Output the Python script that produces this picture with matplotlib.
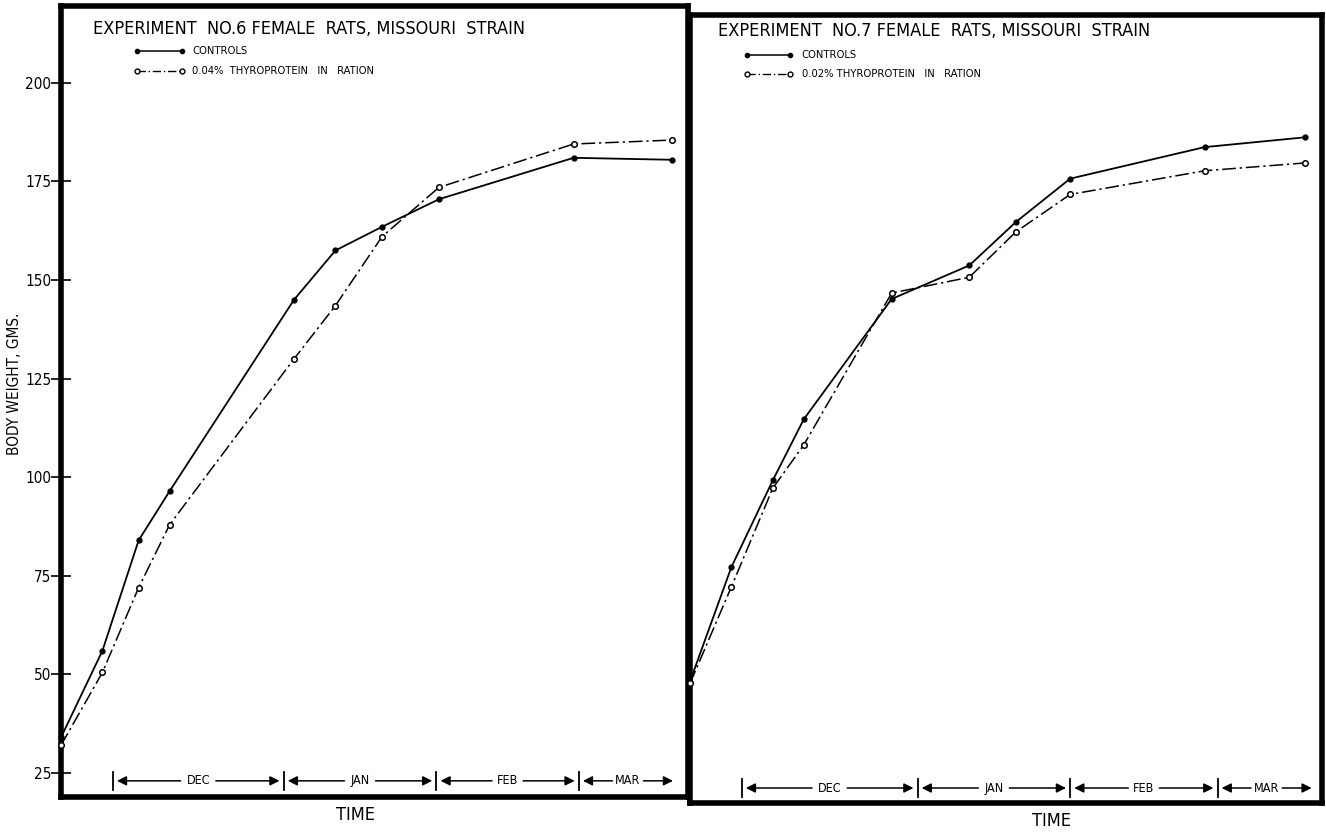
import matplotlib
matplotlib.use("Agg")
import matplotlib.pyplot as plt

plt.rcParams['font.family'] = ['DejaVu Sans']
plt.rcParams['font.stretch'] = 'condensed'

W, H = 1326, 832

# Experiment 6 (left panel), x in days from start of chart
exp6_days = [0, 8, 15, 21, 45, 53, 62, 73, 99, 118]
exp6_controls = [34, 56, 84, 96.5, 145, 157.5, 163.5, 170.5, 181, 180.5]
exp6_thyro = [32, 50.5, 72, 88, 130, 143.5, 161, 173.5, 184.5, 185.5]

# Experiment 7 (right panel)
exp7_days = [0, 8, 16, 22, 39, 54, 63, 73.5, 99.5, 119]
exp7_controls = [50, 79, 101, 116.5, 147, 155.5, 166.5, 177.5, 185.5, 188]
exp7_thyro = [49.5, 74, 99, 110, 148.5, 152.5, 164, 173.5, 179.5, 181.5]

months = ["DEC", "JAN", "FEB", "MAR"]
exp6_month_start = [10, 43, 72.5, 100, 119]
exp7_month_start = [10, 44, 73.5, 102, 121]

yticks = [25, 50, 75, 100, 125, 150, 175, 200]


def draw_panel(ax, days, controls, thyro, month_start, title, thyro_label, leg):
    ax.plot(days, controls, color="black", lw=1.3, marker="o", ms=3.5,
            mfc="black", mec="black", clip_on=False, zorder=3)
    ax.plot(days, thyro, color="black", lw=1.1, ls=(0, (9, 2.5, 1.5, 2.5)),
            marker="o", ms=4, mfc="white", mec="black", mew=1.1,
            clip_on=False, zorder=3)

    for s in ax.spines.values():
        s.set_linewidth(4)

    ax.text(title[1], title[2], title[0], transform=ax.transAxes,
            fontsize=13, va="center", ha="left")

    # hand drawn legend
    x0, x1, xt, y1, y2 = leg
    ax.plot([x0, x1], [y1, y1], transform=ax.transAxes, color="black",
            lw=1.1, marker="o", ms=3, mfc="black")
    ax.plot([x0, x1], [y2, y2], transform=ax.transAxes, color="black",
            lw=1.0, ls=(0, (6, 2, 1, 2)), marker="o", ms=3.5, mfc="white")
    ax.text(xt, y1, "CONTROLS", transform=ax.transAxes, fontsize=8,
            va="center", ha="left")
    ax.text(xt, y2, thyro_label, transform=ax.transAxes, fontsize=8,
            va="center", ha="left")

    # month arrows along the bottom
    yb = 23
    for i, m in enumerate(months):
        a, b = month_start[i], month_start[i + 1]
        mid = (a + b) / 2
        ax.plot([a, a], [yb - 2.2, yb + 2.2], color="black", lw=1.3)
        ax.text(mid, yb, m, fontsize=9, ha="center", va="center")
        half = 3.0 if m != "DEC" else 3.4
        arrow = dict(arrowstyle="-|>", color="black", lw=1.1,
                     mutation_scale=14, shrinkA=0, shrinkB=0)
        ax.annotate("", xy=(a + 0.8, yb), xytext=(mid - half, yb),
                    arrowprops=arrow)
        ax.annotate("", xy=(b - 0.8, yb), xytext=(mid + half, yb),
                    arrowprops=arrow)


fig = plt.figure(figsize=(W / 100, H / 100), dpi=100)
fig.patch.set_facecolor("white")

ax1 = fig.add_axes([61 / W, 1 - 797 / H, 627 / W, 791 / H])
ax2 = fig.add_axes([690 / W, 1 - 803 / H, 632 / W, 788 / H])

ax1.set_xlim(0, 121.1)
ax1.set_ylim(18.9, 219.5)
ax2.set_xlim(0, 122.2)
ax2.set_ylim(19.2, 219.0)

draw_panel(ax1, exp6_days, exp6_controls, exp6_thyro, exp6_month_start,
           ("EXPERIMENT  NO.6 FEMALE  RATS, MISSOURI  STRAIN", 0.051, 0.971),
           "0.04%  THYROPROTEIN   IN   RATION",
           (0.121, 0.193, 0.209, 0.943, 0.918))
draw_panel(ax2, exp7_days, exp7_controls, exp7_thyro, exp7_month_start,
           ("EXPERIMENT  NO.7 FEMALE  RATS, MISSOURI  STRAIN", 0.044, 0.98),
           "0.02% THYROPROTEIN   IN   RATION",
           (0.09, 0.158, 0.177, 0.949, 0.925))

ax1.set_yticks(yticks)
ax1.set_yticklabels([str(v) for v in yticks], fontsize=11)
ax1.tick_params(axis="y", direction="inout", length=14, width=1.2, pad=0)
ax1.set_xticks([])
ax2.set_xticks([])
ax2.set_yticks([])

fig.text(15 / W, 1 - 384 / H, "BODY WEIGHT, GMS.", rotation=90,
         fontsize=11, ha="center", va="center")
fig.text(356 / W, 1 - 815 / H, "TIME", fontsize=13, ha="center", va="center")
fig.text(1052 / W, 1 - 821 / H, "TIME", fontsize=13, ha="center", va="center")

fig.savefig("out.png", dpi=100)
